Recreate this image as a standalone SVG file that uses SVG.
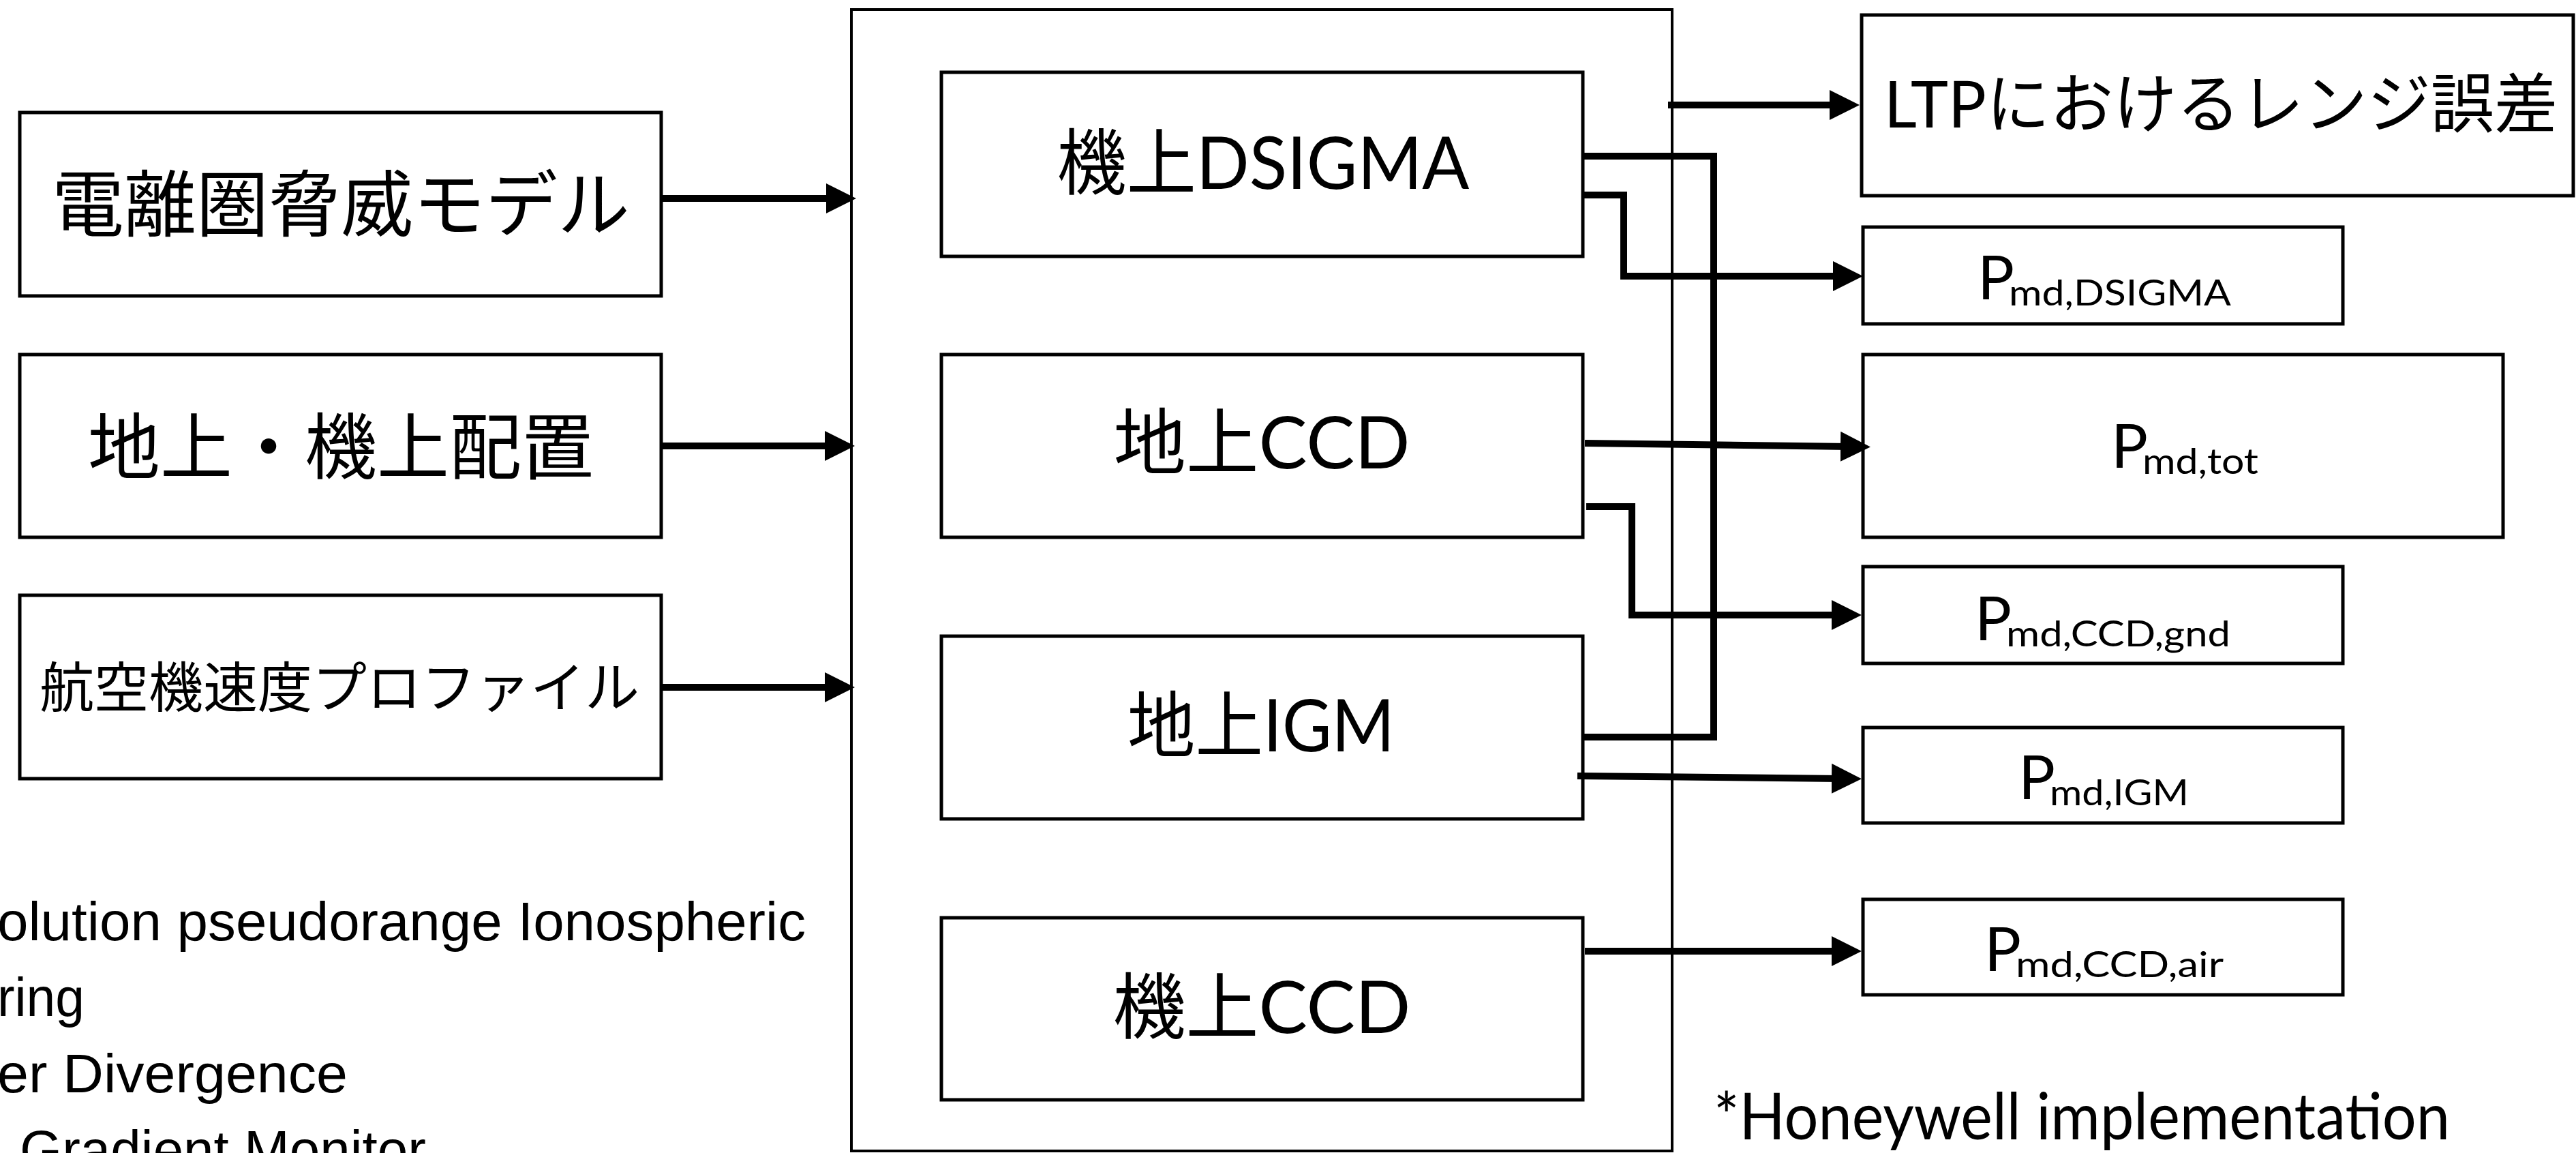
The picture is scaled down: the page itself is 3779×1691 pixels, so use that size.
<svg xmlns="http://www.w3.org/2000/svg" width="3779" height="1691" viewBox="0 0 3779 1691">
  <style>
    .box { fill: #ffffff; stroke: #000000; stroke-width: 5; }
    .frame { fill: none; stroke: #000000; stroke-width: 4; }
    .wire { fill: none; stroke: #000000; stroke-width: 10; stroke-linejoin: miter; stroke-linecap: butt; }
    .jp { font-family: "Noto Sans CJK JP", "Noto Sans CJK SC", sans-serif; fill: #000000; }
    .gs { font-family: "Lato", "Noto Sans CJK JP", sans-serif; fill: #000000; }
    .note { font-family: "Liberation Sans", Arial, sans-serif; font-size: 80px; fill: #000000; }
  </style>
  <defs>
    <marker id="head" markerUnits="userSpaceOnUse" markerWidth="44" markerHeight="44" refX="12" refY="22" orient="auto">
      <path d="M0,0 L44,22 L0,44 Z" fill="#000000"/>
    </marker>
  </defs>

  <rect x="0" y="0" width="3779" height="1691" fill="#ffffff"/>

  <!-- inputs -->
  <g id="threat-model">
    <rect class="box" x="29" y="165" width="941" height="269"/>
    <text class="jp" x="500" y="338" font-size="106" text-anchor="middle">電離圏脅威モデル</text>
  </g>
  <g id="placement">
    <rect class="box" x="29" y="520" width="941" height="268"/>
    <text class="jp" x="500" y="694" font-size="106" text-anchor="middle">地上・機上配置</text>
  </g>
  <g id="speed-profile">
    <rect class="box" x="29" y="873" width="941" height="269"/>
    <text class="jp" x="498" y="1037" font-size="80" text-anchor="middle">航空機速度プロファイル</text>
  </g>

  <!-- monitor block -->
  <g id="monitors">
    <rect class="frame" x="1249" y="14" width="1204" height="1674"/>
  </g>
  <g id="dsigma">
    <rect class="box" x="1381" y="106" width="941" height="270"/>
    <text class="gs" x="1853" y="277" font-size="106" text-anchor="middle" textLength="605" lengthAdjust="spacingAndGlyphs">機上DSIGMA</text>
  </g>
  <g id="ccd-gnd">
    <rect class="box" x="1381" y="520" width="941" height="268"/>
    <text class="gs" x="1851" y="687" font-size="106" text-anchor="middle" textLength="435" lengthAdjust="spacingAndGlyphs">地上CCD</text>
  </g>
  <g id="igm">
    <rect class="box" x="1381" y="933" width="941" height="268"/>
    <text class="gs" x="1850" y="1102" font-size="106" text-anchor="middle" textLength="392" lengthAdjust="spacingAndGlyphs">地上IGM</text>
  </g>
  <g id="ccd-air">
    <rect class="box" x="1381" y="1346" width="941" height="267"/>
    <text class="gs" x="1851" y="1515" font-size="106" text-anchor="middle" textLength="437" lengthAdjust="spacingAndGlyphs">機上CCD</text>
  </g>

  <!-- outputs -->
  <g id="ltp-range-error">
    <rect class="box" x="2731" y="22" width="1044" height="265"/>
    <text class="gs" x="2764" y="187" font-size="95" textLength="988" lengthAdjust="spacingAndGlyphs">LTPにおけるレンジ誤差</text>
  </g>
  <g id="pmd-dsigma">
    <rect class="box" x="2733" y="333" width="704" height="142"/>
    <text class="gs" x="2901" y="439" font-size="90">P</text>
    <text class="gs" x="2947" y="448" font-size="52" textLength="326" lengthAdjust="spacingAndGlyphs">md,DSIGMA</text>
  </g>
  <g id="pmd-tot">
    <rect class="box" x="2733" y="520" width="939" height="268"/>
    <text class="gs" x="3097" y="686" font-size="90">P</text>
    <text class="gs" x="3143" y="695" font-size="52" textLength="170" lengthAdjust="spacingAndGlyphs">md,tot</text>
  </g>
  <g id="pmd-ccd-gnd">
    <rect class="box" x="2733" y="831" width="704" height="142"/>
    <text class="gs" x="2897" y="939" font-size="90">P</text>
    <text class="gs" x="2943" y="948" font-size="52" textLength="329" lengthAdjust="spacingAndGlyphs">md,CCD,gnd</text>
  </g>
  <g id="pmd-igm">
    <rect class="box" x="2733" y="1067" width="704" height="140"/>
    <text class="gs" x="2961" y="1172" font-size="90">P</text>
    <text class="gs" x="3007" y="1181" font-size="52" textLength="204" lengthAdjust="spacingAndGlyphs">md,IGM</text>
  </g>
  <g id="pmd-ccd-air">
    <rect class="box" x="2733" y="1319" width="704" height="140"/>
    <text class="gs" x="2911" y="1424" font-size="90">P</text>
    <text class="gs" x="2957" y="1433" font-size="52" textLength="305" lengthAdjust="spacingAndGlyphs">md,CCD,air</text>
  </g>

  <!-- connectors -->
  <g id="connectors">
    <path class="wire" d="M970,291 H1224" marker-end="url(#head)"/>
    <path class="wire" d="M970,654 H1222" marker-end="url(#head)"/>
    <path class="wire" d="M970,1008 H1222" marker-end="url(#head)"/>
    <path class="wire" d="M2447,154 H2696" marker-end="url(#head)"/>
    <path class="wire" d="M2322,286 H2382 V405 H2701" marker-end="url(#head)"/>
    <path class="wire" d="M2322,229 H2514 V1081 H2322"/>
    <path class="wire" d="M2325,650 L2712,655" marker-end="url(#head)"/>
    <path class="wire" d="M2327,743 H2394 V902 H2699" marker-end="url(#head)"/>
    <path class="wire" d="M2314,1138 L2699,1142" marker-end="url(#head)"/>
    <path class="wire" d="M2325,1395 H2699" marker-end="url(#head)"/>
  </g>

  <!-- notes -->
  <g id="notes">
    <text class="gs" x="2514" y="1671" font-size="95" textLength="1080" lengthAdjust="spacingAndGlyphs">*Honeywell implementation</text>
    <text class="note" x="-4" y="1379" textLength="1186" lengthAdjust="spacingAndGlyphs">olution pseudorange Ionospheric</text>
    <text class="note" x="-4" y="1490" textLength="128" lengthAdjust="spacingAndGlyphs">ring</text>
    <text class="note" x="-4" y="1602" textLength="514" lengthAdjust="spacingAndGlyphs">er Divergence</text>
    <text class="note" x="29" y="1714">Gradient Monitor</text>
  </g>
</svg>
